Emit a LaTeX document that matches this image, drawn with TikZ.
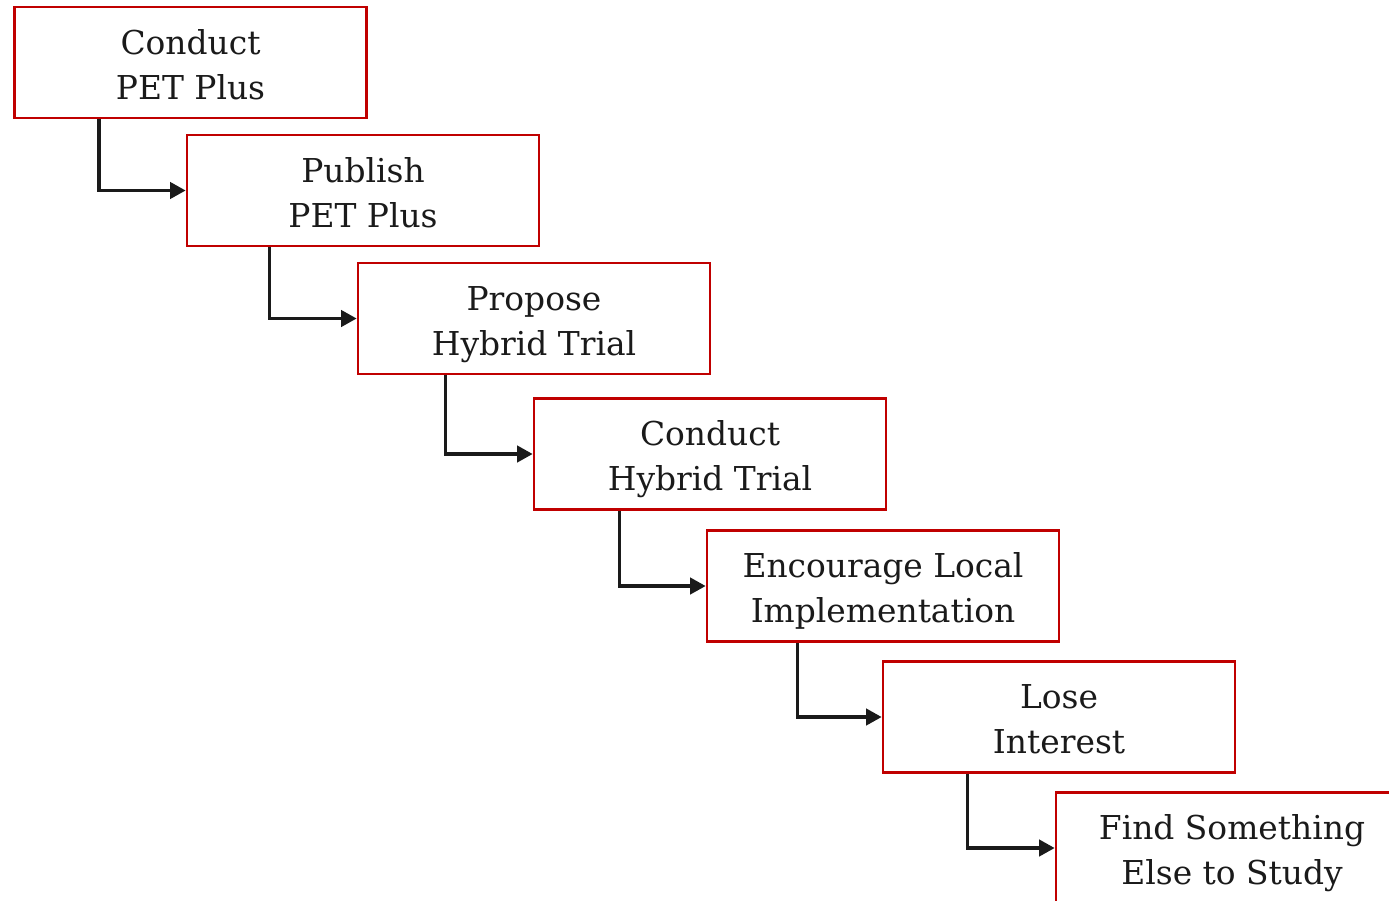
\documentclass[tikz,border=0pt]{standalone}
\usepackage{fontspec}
\setmainfont{DejaVu Serif}
\usepackage{xcolor}
\usetikzlibrary{positioning,calc,arrows.meta}
\definecolor{StepRed}{RGB}{192,0,0}
\definecolor{LinkBlack}{RGB}{26,26,26}
\tikzset{
    stepbox/.style={rectangle, draw=StepRed, line width=0.7pt, fill=white, minimum width=3.52cm, minimum height=1.11cm, inner sep=0pt, align=center, text height=0.8cm, text depth=0.07cm, text=LinkBlack, font=\fontsize{9.35}{12.8}\selectfont},
    steplink/.style={draw=LinkBlack, line width=0.95pt, -{Triangle[length=4.4pt, width=4.6pt]}}
}
\begin{document}
\begin{tikzpicture}[x=0.01cm, y=-0.01cm]
    \useasboundingbox (0,0) rectangle (1389,900);
    \clip (0,0) rectangle (1389,900);
    % Cac buoc: moi hop lech xuong va sang phai
    \node[stepbox] (conductpet) at (190.5,62.5) {Conduct\\PET Plus};
    \node[stepbox] (publishpet) at (363,190.5) {Publish\\PET Plus};
    \node[stepbox] (proposehyb) at (534,318.5) {Propose\\Hybrid Trial};
    \node[stepbox] (conducthyb) at (710,454) {Conduct\\Hybrid Trial};
    \node[stepbox] (encourage) at (883,586) {Encourage Local\\Implementation};
    \node[stepbox] (loseint) at (1059,717) {Lose\\Interest};
    \node[stepbox] (findelse) at (1232,848) {Find Something\\Else to Study};
    % Mui ten noi cac buoc
    \foreach \from/\to/\dx in {conductpet/publishpet/86, publishpet/proposehyb/84, proposehyb/conducthyb/89, conducthyb/encourage/87, encourage/loseint/92, loseint/findelse/86}
        \draw[steplink] ($(\from.south west)+(\dx,0)$) |- (\to.west);
\end{tikzpicture}
\end{document}
